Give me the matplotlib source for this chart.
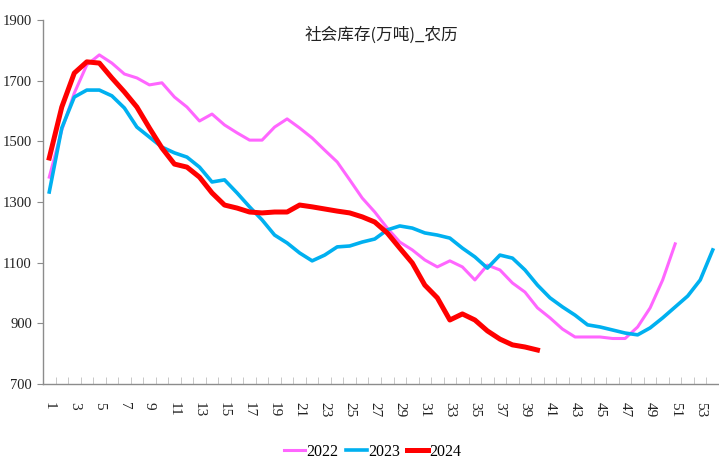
import numpy as np
import matplotlib
matplotlib.use("Agg")
import matplotlib.pyplot as plt

plt.rcParams['font.family'] = ['Liberation Serif', 'Noto Sans CJK SC', 'DejaVu Sans']

# week number (lunar calendar)
weeks = np.arange(1, 55)

stock_2022 = [1382, 1537, 1659, 1752, 1785, 1758, 1722, 1709, 1686, 1693,
              1646, 1613, 1567, 1590, 1554, 1528, 1504, 1504, 1547, 1574,
              1544, 1511, 1471, 1432, 1373, 1313, 1267, 1214, 1168, 1142,
              1109, 1086, 1106, 1086, 1043, 1092, 1076, 1033, 1003, 951,
              918, 881, 855, 855, 855, 850, 850, 888, 951, 1043,
              1162]
stock_2023 = [1333, 1544, 1646, 1669, 1669, 1650, 1610, 1547, 1514, 1481,
              1462, 1448, 1415, 1366, 1373, 1330, 1284, 1241, 1191, 1165,
              1132, 1106, 1125, 1152, 1155, 1168, 1178, 1208, 1221, 1214,
              1198, 1191, 1181, 1148, 1119, 1082, 1125, 1115, 1076, 1026,
              984, 954, 927, 895, 888, 878, 868, 862, 885, 918,
              954, 990, 1043, 1142]
stock_2024 = [1445, 1613, 1725, 1762, 1758, 1709, 1663, 1613, 1544, 1478,
              1425, 1415, 1382, 1330, 1290, 1280, 1267, 1264, 1267, 1267,
              1290, 1284, 1277, 1270, 1264, 1251, 1234, 1198, 1148, 1099,
              1026, 984, 911, 931, 911, 875, 848, 829, 822, 812]

title = '社会库存(万吨)_农历'

fig = plt.figure(figsize=(7.19, 4.63), dpi=100)
ax = fig.add_axes([43 / 719, 1 - 384 / 463, 1 - 43 / 719, (384 - 20) / 463])

l1, = ax.plot(weeks[:len(stock_2022)], stock_2022, color='#FF66FF', lw=2.2,
              label='2022')
l2, = ax.plot(weeks[:len(stock_2023)], stock_2023, color='#00B0F0', lw=2.6,
              label='2023')
l3, = ax.plot(weeks[:len(stock_2024)], stock_2024, color='#FF0000', lw=3.6,
              label='2024')

ax.set_xlim(0.5, 54.5)
ax.set_ylim(700, 1900)
ax.set_yticks(np.arange(700, 1901, 200))
ax.set_xticks(weeks[::2])
ax.set_xticklabels([str(w) for w in weeks[::2]], rotation=270, va='top',
                   fontsize=11)
ax.set_xticks(np.arange(1.5, 54, 1), minor=True)

for s in ['top', 'right']:
    ax.spines[s].set_visible(False)
for s in ['left', 'bottom']:
    ax.spines[s].set_color('#8c8c8c')
    ax.spines[s].set_linewidth(1.0)

ax.tick_params(axis='y', direction='out', length=4, color='#8c8c8c',
               labelsize=10.5, pad=4, labelcolor='#222222')
ax.tick_params(axis='x', which='major', length=0, pad=13,
               labelcolor='#222222')
ax.tick_params(axis='x', which='minor', direction='in', length=5,
               color='#bfbfbf')

ax.text(0.501, 0.957, title, transform=ax.transAxes, ha='center', va='center',
        fontsize=12, family=['Noto Sans CJK SC', 'DejaVu Sans'],
        color='#222222')

fig.legend(handles=[l1, l2, l3], loc='center',
           bbox_to_anchor=(373 / 719, 1 - 452 / 463), ncol=3, frameon=False,
           fontsize=11.5, handlelength=1.3, handletextpad=0.1,
           columnspacing=0.45)

fig.savefig('out.png', dpi=100)
